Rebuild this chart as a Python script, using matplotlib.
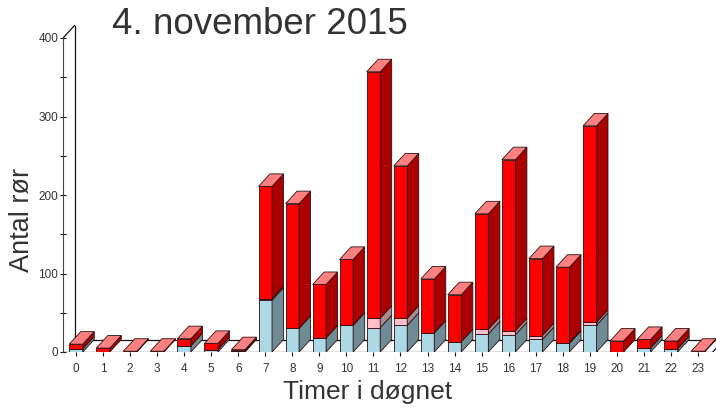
import numpy as np
import matplotlib.pyplot as plt
from matplotlib.patches import Polygon

# Data: hours 0-23, stacked segments (blue, pink, red)
hours = list(range(24))
blue = [4, 0, 0, 0, 8, 3, 1, 66, 30, 18, 34, 31, 34, 24, 13, 23, 22, 16, 11, 34, 0, 5, 4, 0]
pink = [0, 0, 0, 0, 0, 0, 0, 2, 0, 0, 0, 12, 9, 0, 0, 6, 5, 5, 1, 4, 0, 0, 0, 0]
red = [6, 5, 1, 1, 9, 8, 2, 143, 159, 68, 84, 314, 194, 69, 60, 147, 218, 98, 96, 250, 14, 11, 10, 1]
yticks = [0, 100, 200, 300, 400]

plt.rcParams['font.family'] = ['Liberation Sans', 'DejaVu Sans']

fig = plt.figure(figsize=(7.16, 4.13), dpi=100)
# axes: left px 63, bottom px 352 (from top), 27.04 px per hour, 0.785 px per unit
W, H = 716, 413
px_x = 27.04
px_y = 0.785
left_px, base_px = 63, 352
ax_w_px = W - left_px
ax_h_px = base_px - 5
ax = fig.add_axes([left_px / W, (H - base_px) / H, ax_w_px / W, ax_h_px / H])
x0 = -13 / px_x
ax.set_xlim(x0, x0 + ax_w_px / px_x)
ax.set_ylim(0, ax_h_px / px_y)

# 3D depth offsets in data units
dx = 11.5 / px_x
dy = 12.5 / px_y
w = 13.5 / px_x

front_cols = ['#add8e6', '#ffc0cb', '#ff0000']
side_cols = ['#6f8c96', '#b08890', '#aa0000']
top_col = '#ff8080'
ec = '#2a1010'
lw = 0.6

# floor
x_end = 23.55
ax.plot([x0 + dx, x_end + dx], [dy, dy], color='#111111', lw=0.9, zorder=1)
ax.plot([x_end, x_end + dx], [0, dy], color='#111111', lw=0.9, zorder=1)
ax.plot([x0, x_end], [0, 0], color='#111111', lw=0.9, zorder=1)
# back wall line
ax.plot([x0 + dx, x0 + dx], [dy, 400 + dy], color='#111111', lw=0.9, zorder=1)
ax.plot([x0, x0 + dx], [400, 400 + dy], color='#111111', lw=0.9, zorder=1)

for i in hours:
    segs = [blue[i], pink[i], red[i]]
    bottom = 0
    xl = i - w / 2
    xr = i + w / 2
    for k, v in enumerate(segs):
        if v <= 0:
            continue
        top = bottom + v
        ax.add_patch(Polygon([(xl, bottom), (xr, bottom), (xr, top), (xl, top)],
                             closed=True, fc=front_cols[k], ec=ec, lw=lw, zorder=3))
        ax.add_patch(Polygon([(xr, bottom), (xr + dx, bottom + dy), (xr + dx, top + dy), (xr, top)],
                             closed=True, fc=side_cols[k], ec=ec, lw=lw, zorder=3))
        bottom = top
    ax.add_patch(Polygon([(xl, bottom), (xr, bottom), (xr + dx, bottom + dy), (xl + dx, bottom + dy)],
                         closed=True, fc=top_col, ec=ec, lw=lw, zorder=3))

for s in ['top', 'right', 'bottom']:
    ax.spines[s].set_visible(False)
ax.spines['left'].set_bounds(0, 400)
ax.spines['left'].set_position(('data', x0))
ax.spines['left'].set_color('#444444')
ax.spines['left'].set_linewidth(0.8)

ax.set_yticks(yticks)
ax.set_yticks([50, 150, 250, 350], minor=True)
ax.tick_params(axis='y', which='both', direction='inout', length=5, width=0.8,
               color='#111111', labelsize=8.5, labelcolor='#333333', pad=1)
ax.set_xticks(hours)
ax.set_xticklabels([str(h) for h in hours])
ax.tick_params(axis='x', direction='out', length=3, width=0.8, color='#111111',
               labelsize=8.5, labelcolor='#333333', pad=5)

fig.text(112 / W, 1 - 24 / H, '4. november 2015', fontsize=26.5, color='#333333',
         ha='left', va='center')
fig.text(22 / W, 1 - 220 / H, 'Antal rør', fontsize=19.5, color='#333333',
         rotation=90, ha='center', va='center')
fig.text(368 / W, 1 - 392 / H, 'Timer i døgnet', fontsize=19, color='#333333',
         ha='center', va='center')

fig.savefig('out.png', dpi=100)
